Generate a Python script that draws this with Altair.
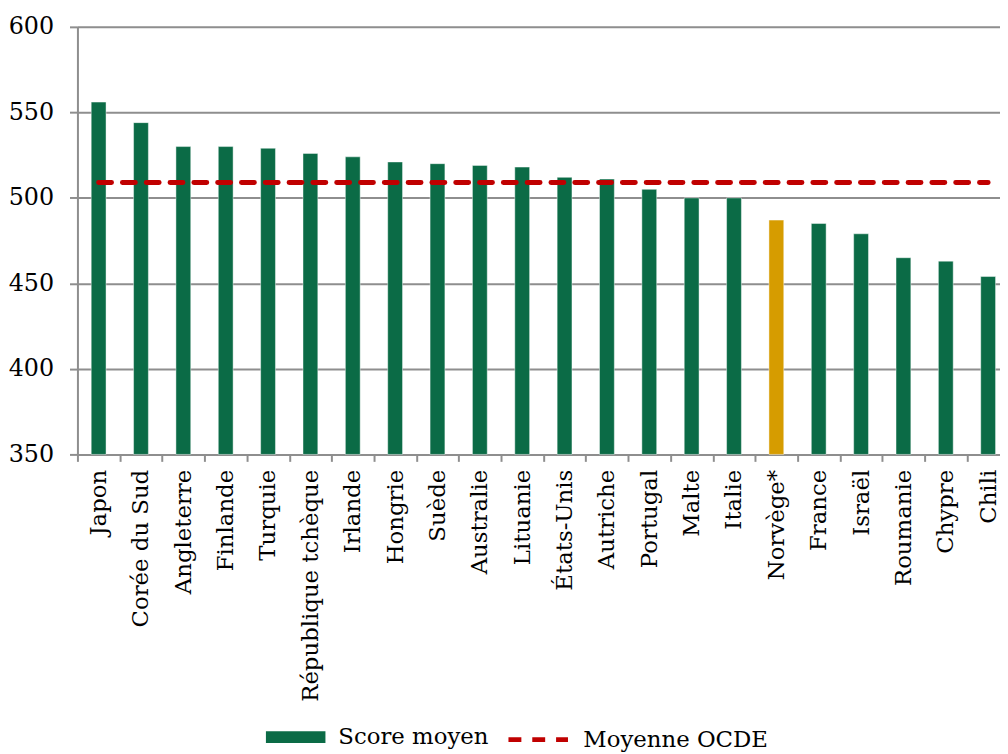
import altair as alt
import pandas as pd

countries = ["Japon", "Corée du Sud", "Angleterre", "Finlande", "Turquie",
             "République tchèque", "Irlande", "Hongrie", "Suède", "Australie",
             "Lituanie", "États-Unis", "Autriche", "Portugal", "Malte", "Italie",
             "Norvège*", "France", "Israël", "Roumanie", "Chypre", "Chili"]
scores = [556, 544, 530, 530, 529, 526, 524, 521, 520, 519, 518, 512, 511,
          505, 500, 500, 487, 485, 479, 465, 463, 454]
oecd_mean = 509
highlight = "Norvège*"
y_ticks = [350, 400, 450, 500, 550, 600]
series_bar = "Score moyen"
series_line = "Moyenne OCDE"

GREEN = "#0B6B46"
GOLD = "#D69C00"
RED = "#C00000"
GRAY = "#8E8E8E"
FONT = "DejaVu Serif"

bars_df = pd.DataFrame({"pays": countries, "score": scores, "serie": series_bar})
line_df = pd.DataFrame({"pays": countries, "score": [oecd_mean] * len(countries),
                        "serie": series_line})

x_enc = alt.X(
    "pays:N", sort=None,
    scale=alt.Scale(paddingInner=0, paddingOuter=0),
    axis=alt.Axis(title=None, labelAngle=270, labelAlign="right",
                  labelBaseline="middle", labelPadding=8, tickBand="extent",
                  tickSize=7, labelLimit=400, labelOverlap=False,
                  labelFont=FONT, labelFontSize=23, labelColor="black",
                  domainColor=GRAY, domainWidth=2, tickColor=GRAY, tickWidth=2),
)
y_scale = alt.Scale(domain=[y_ticks[0], y_ticks[-1]], zero=False, nice=False)

bars = alt.Chart(bars_df).mark_bar(
    width=alt.RelativeBandSize(0.35), stroke="white", strokeOpacity=0.45, strokeWidth=1
).encode(
    x=x_enc,
    y=alt.Y("score:Q", scale=y_scale,
            axis=alt.Axis(title=None, values=y_ticks, grid=True, gridColor=GRAY,
                          gridWidth=2, tickSize=8, tickColor=GRAY, tickWidth=2,
                          domainColor=GRAY, domainWidth=2, labelPadding=16,
                          labelFont=FONT, labelFontSize=24, labelColor="black")),
    y2=alt.datum(y_ticks[0]),
    color=alt.condition(
        alt.datum.pays == highlight,
        alt.value(GOLD),
        alt.Color("serie:N",
                  scale=alt.Scale(domain=[series_bar], range=[GREEN]),
                  legend=alt.Legend(title=None, orient="none", legendX=190, legendY=686,
                                    symbolType="M-1,-0.2H1V0.2H-1Z", symbolSize=3600,
                                    symbolStrokeWidth=0, labelOffset=13, padding=0,
                                    labelLimit=400,
                                    labelFont=FONT, labelFontSize=23, labelColor="black")),
    ),
)

line = alt.Chart(line_df).mark_line(
    color=RED, strokeWidth=5, strokeCap="round"
).encode(
    x=alt.X("pays:N", sort=None),
    y=alt.Y("score:Q", scale=y_scale),
    strokeDash=alt.StrokeDash(
        "serie:N",
        scale=alt.Scale(domain=[series_line], range=[[13, 11]]),
        legend=alt.Legend(title=None, orient="none", legendX=432, legendY=686,
                          symbolType="stroke", symbolSize=3600, symbolStrokeWidth=5,
                          symbolStrokeColor=RED, labelOffset=13, padding=0,
                          labelLimit=400,
                          labelFont=FONT, labelFontSize=23, labelColor="black"),
    ),
)

chart = alt.layer(bars, line).properties(
    width=939.4, height=431,
    autosize=alt.AutoSizeParams(type="none"),
    padding={"left": 70, "top": 16, "right": -9.4, "bottom": 299},
).configure_view(stroke=None).configure(background="white")

chart.save("out.html", embed_options={"renderer": "svg", "actions": False})
